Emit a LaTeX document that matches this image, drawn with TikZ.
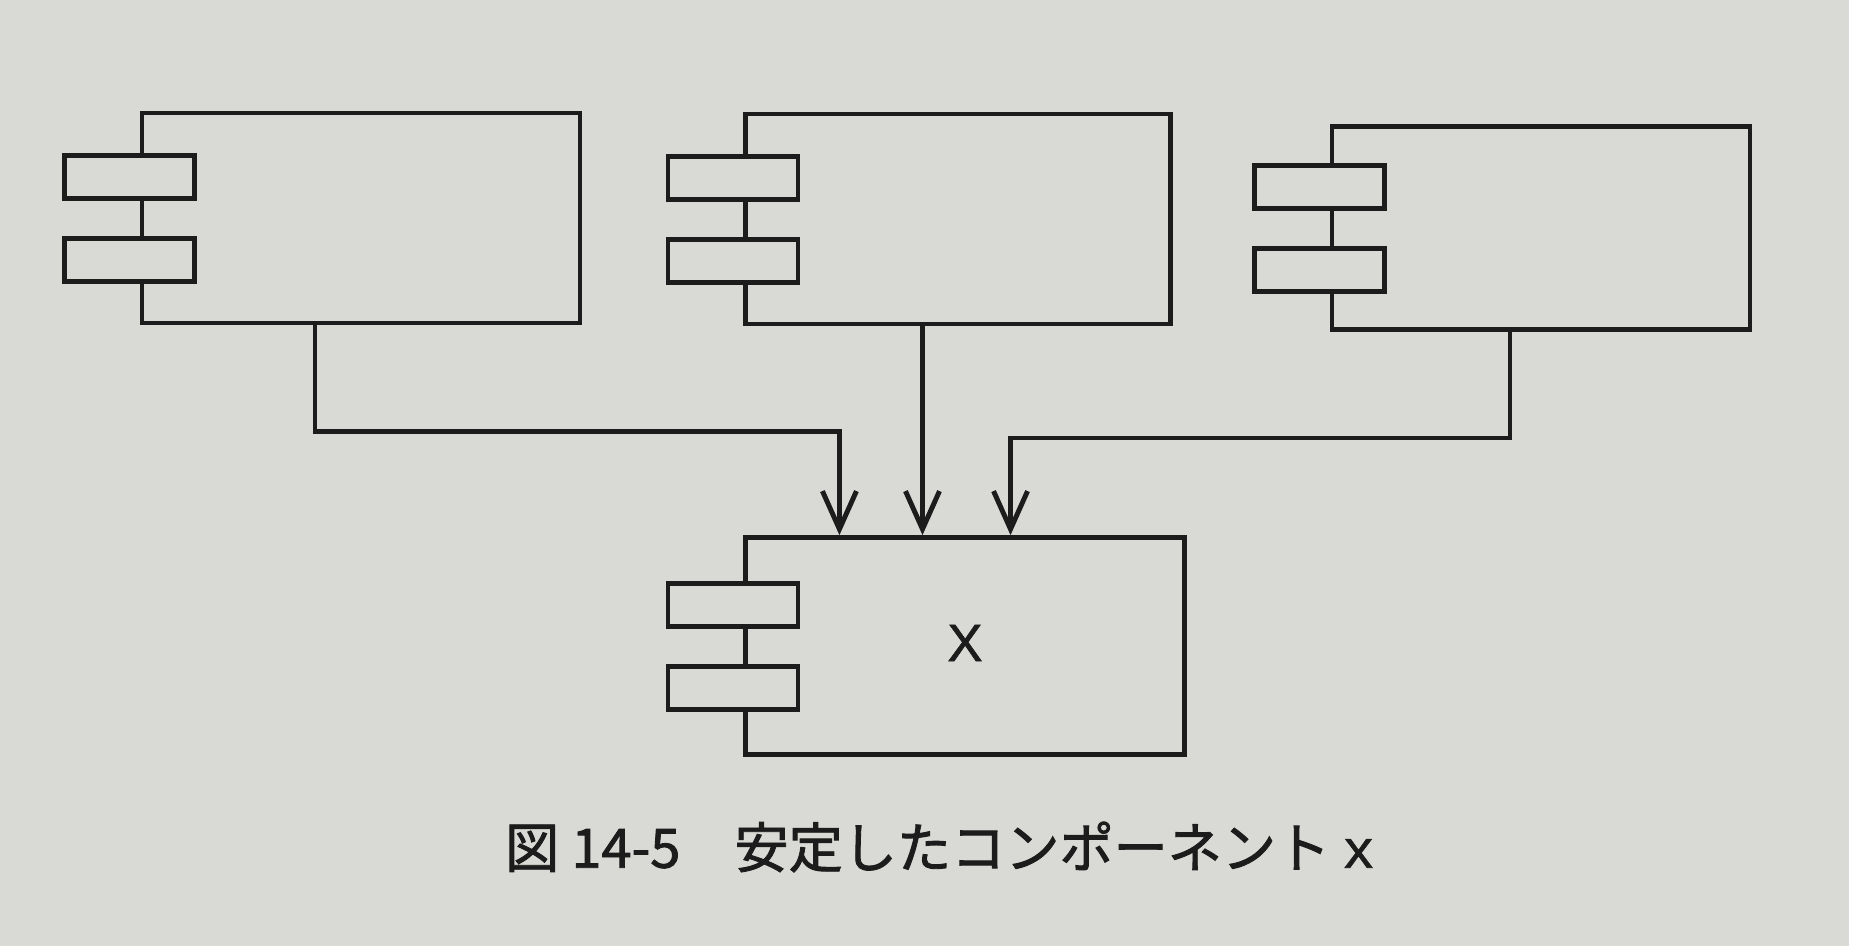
\documentclass[tikz,border=0pt]{standalone}
\usepackage{fontspec}
\usepackage{tikz}
\usetikzlibrary{arrows.meta}
\usetikzlibrary{positioning}
\newfontfamily\jpfont[FakeBold=1.6]{Noto Sans CJK JP}
\newfontfamily\labfont[FakeBold=1.2]{Liberation Sans}
\newfontfamily\monofont[FakeBold=1.2]{Liberation Mono}
\definecolor{paper}{rgb}{0.85, 0.85, 0.84}
\definecolor{ink}{rgb}{0.11, 0.11, 0.11}
\tikzset{comp/.style = {draw = ink, line width = 1.3pt, inner sep = 0,
    minimum width = 4.3cm, minimum height = 2.1cm}}
\tikzset{port/.style = {draw = ink, fill = paper, line width = 1.3pt, inner sep = 0,
    minimum width = 1.3cm, minimum height = 0.43cm}}
\tikzset{flow/.style = {draw = ink, line width = 1.3pt,
    -{Straight Barb[length = 0.38cm, width = 0.34cm, line width = 1.4pt]}}}

\begin{document}
\begin{tikzpicture}[x = 0.01cm, y = -0.01cm]
          \fill [paper] (0, 0) rectangle (1849, 946);
          \useasboundingbox (0, 0) rectangle (1849, 946);

          % components
          \node [comp, minimum width = 4.38cm] (a) at (361, 218) {};
          \node [comp, minimum width = 4.25cm] (b) at (958, 219) {};
          \node [comp, minimum width = 4.18cm, minimum height = 2.03cm] (c) at (1541, 228) {};
          \node [comp, minimum width = 4.39cm, minimum height = 2.17cm] (x) at (965, 646) {};
          \node [font = \labfont\fontsize{15pt}{15pt}\selectfont, text = ink] (xl) at (965, 643) {X};

          % ports
          \foreach \n in {a, b, c, x} {
            \node [port] (\n1) at ([xshift = -0.1cm, yshift = 0.41cm]\n.west) {};
            \node [port] (\n2) at ([xshift = -0.1cm, yshift = -0.42cm]\n.west) {};
          }

          % dependencies
          \draw [flow] ([xshift = -0.46cm]a.south) -- ++(0, 106) -| ([xshift = -1.255cm]x.north);
          \draw [flow] ([xshift = -0.425cm]x.north |- b.south) -- ([xshift = -0.425cm]x.north);
          \draw [flow] ([xshift = -0.31cm]c.south) -- ++(0, 106) -| ([xshift = 0.455cm]x.north);

          \node [font = \jpfont\fontsize{15.4pt}{15.4pt}\selectfont, text = ink] (cap) at (940, 847)
            {図 14-5\quad 安定したコンポーネント {\monofont x}};
        \end{tikzpicture}
\end{document}
